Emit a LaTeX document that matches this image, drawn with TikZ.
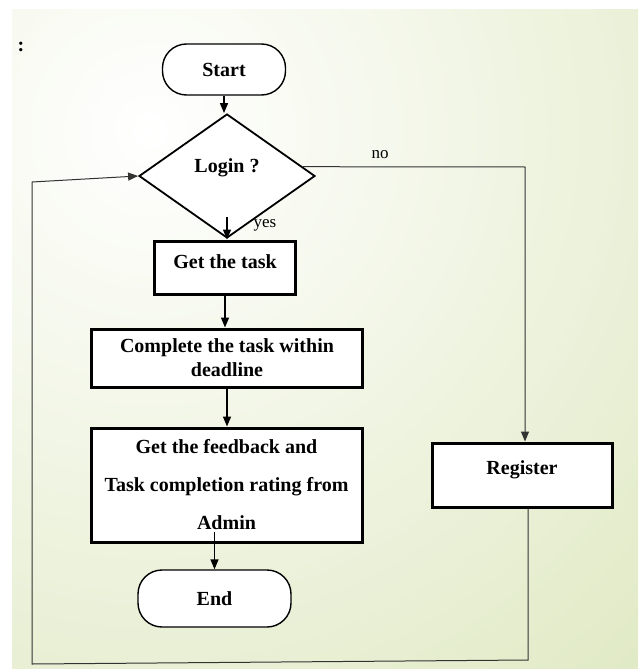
\documentclass[tikz,border=0pt]{standalone}
\usepackage{fontspec}
\setmainfont{Liberation Serif}
\usetikzlibrary{shapes.geometric,arrows.meta}
\definecolor{bggreen}{RGB}{225,234,198}
\begin{document}
\begin{tikzpicture}[x=1pt,y=-1pt,
  every node/.style={font=\fontsize{20}{24}\selectfont\bfseries, text=black},
  termbox/.style={draw, line width=1.4pt, rounded corners=24pt, fill=white, inner sep=0pt},
  procbox/.style={draw, line width=3pt, fill=white, inner sep=0pt, align=center},
  decbox/.style={draw, diamond, line width=1.8pt, fill=white, inner sep=0pt, minimum width=176pt, minimum height=124pt},
  arr/.style={line width=1.4pt, -{Triangle[length=10pt,width=8pt]}},
  looparr/.style={line width=1pt, draw=black!80, -{Triangle[length=10pt,width=8pt]}},
  lbl/.style={font=\fontsize{17}{20}\selectfont\mdseries}
]
\useasboundingbox (0,0) rectangle (638,669);
\fill[white] (0,0) rectangle (638,669);
\begin{scope}
  \clip (12,10) rectangle (638,669);
  \fill[bggreen] (12,10) rectangle (638,669);
  \shade[inner color=white, outer color=bggreen] (150,130) circle (720);
\end{scope}

\node (colon) at (21,47) {:};

\node[termbox, minimum width=123pt, minimum height=51pt] (start) at (224,69.5) {Start};
\node[decbox, text height=13pt, text depth=20pt] (login) at (227,176) {Login ?};
\node[procbox, minimum width=141pt, minimum height=53pt, text height=13pt, text depth=11pt] (task) at (225,267.5) {Get the task};
\node[procbox, minimum width=271pt, minimum height=58pt] (complete) at (227,358) {Complete the task within\\ deadline};
\node[procbox, minimum width=271pt, minimum height=114pt] (fb) at (226.5,485) {Get the feedback and\\[14pt] Task completion rating from\\[14pt] Admin};
\node[termbox, minimum width=153pt, minimum height=57pt] (end) at (214.5,598.5) {End};
\node[procbox, minimum width=180pt, minimum height=64pt, text height=13pt, text depth=14pt] (reg) at (522,475) {Register};

\node[lbl] (no) at (380,155) {no};
\node[lbl] (yes) at (265,225) {yes};

\coordinate (nc) at (525,167);
\coordinate (l1) at (528,660);
\coordinate (l2) at (32,664);
\coordinate (l3) at (32,182);

\draw[arr] (start.south) -- (start.south |- login.north);
\draw[arr] ([yshift=22pt]login.south) -- (login.south |- task.north);
\draw[arr] (task.south) -- (task.south |- complete.north);
\draw[arr] (complete.south) -- (complete.south |- fb.north);
\draw[arr] ([yshift=12pt]fb.south -| end.north) -- (end.north);
\draw[looparr] (login.7) -- (nc) -- (nc |- reg.north);
\draw[looparr] (reg.south -| l1) -- (l1) -- (l2) -- (l3) -- (login.west);
\end{tikzpicture}
\end{document}
